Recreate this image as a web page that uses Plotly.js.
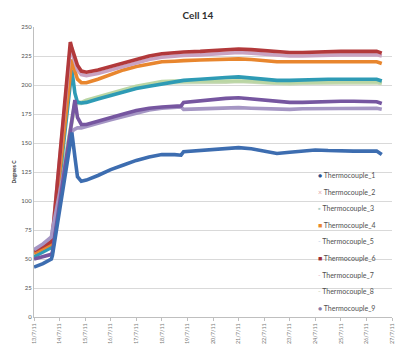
<!DOCTYPE html>
<html>
<head>
<meta charset="utf-8">
<script src="https://cdn.plot.ly/plotly-3.0.1.min.js"></script>
<style>html,body{margin:0;padding:0;background:#fff;}#chart{width:396px;height:349px;}</style>
</head>
<body>
<div id="chart"></div>
<script>
// time axis (days from start)
var t = [0, 0.35, 0.68, 0.72, 1.42, 1.48, 1.6, 1.7, 1.85, 2.05, 2.5, 3.0, 3.5, 4.0, 4.5, 5.0, 5.5, 5.75, 5.85, 6.5, 7.0, 7.5, 8.0, 8.5, 9.0, 9.5, 10.0, 10.5, 11.0, 11.5, 12.0, 12.5, 13.0, 13.4, 13.6];

var seriesNames = ["Thermocouple_1","Thermocouple_2","Thermocouple_3","Thermocouple_4","Thermocouple_5","Thermocouple_6","Thermocouple_7","Thermocouple_8","Thermocouple_9"];

var tc1 = [43, 46, 50, 53, 150, 159, 138, 121, 117, 118, 122, 127, 131, 135, 138, 140, 140, 139.5, 142.5, 143.5, 144.5, 145.5, 146, 145, 143, 141, 142, 143, 144, 143.5, 143, 143, 143, 143, 140];
var tc2 = [57, 62, 68, 71, 231, 228, 220, 213, 209, 208, 210, 213, 216, 219, 222, 224, 225, 225.5, 225.5, 226, 226.5, 227, 228, 227.5, 226.5, 225.5, 225, 225, 225.5, 226, 226, 226, 226, 226, 225];
var tc3 = [52, 56, 60, 63, 201, 213, 193, 185, 184.5, 185, 188, 191, 194, 197, 199, 201, 203, 203.5, 204, 205, 206, 206.5, 207, 206, 205, 204, 204, 204.5, 205, 205, 205, 205, 205, 205, 203.5];
var tc4 = [55, 59, 63, 66, 212, 222, 212, 205, 202, 202, 205, 209, 213, 216, 218, 220, 220.5, 221, 221, 221.5, 222, 222, 222.5, 222, 221, 220, 220, 220, 220, 220.5, 220.5, 220.5, 220.5, 220, 218.5];
var tc5 = [56, 61, 67, 73, 162, 170, 185, 185, 185, 187, 190, 193, 196, 199, 201, 203, 203.5, 203.5, 203.5, 203.5, 203.5, 204, 204, 203.5, 202.5, 202, 202, 202.5, 202.5, 203, 203, 203, 203, 203, 202];
var tc6 = [57, 61, 65, 69, 237, 232, 223, 217, 212, 211, 213, 216, 219, 222, 225, 227, 228, 228, 228.5, 229, 229.5, 230, 231, 230.5, 229.5, 228.5, 228, 228, 228.5, 229, 229, 229, 229, 229, 227.5];
var tc7 = [58, 63, 69, 75, 154, 160, 162, 163, 163, 164, 167, 170, 173, 176, 178.5, 180, 180.5, 181, 179, 179.5, 180, 180, 180.5, 180, 179.5, 179, 179, 179.5, 179.5, 180, 180, 180, 180, 180, 179];
var tc8 = [55, 60, 66, 72, 160, 168, 183, 184, 184, 186, 189, 192, 195, 198, 200, 201.5, 202, 202, 202, 202, 202.5, 202.5, 203, 202.5, 201.5, 201, 201, 201.5, 201.5, 202, 202, 202, 202, 202, 201];
var tc9 = [50, 52, 54, 56, 160, 169, 187, 172, 166, 166, 169, 172, 175, 178, 180, 181, 181.5, 182, 185, 186.5, 188, 188.5, 189, 188, 186.5, 185.5, 185, 185, 185.5, 186, 186, 186, 186, 185.5, 184];

var tickVals = [0,1,2,3,4,5,6,7,8,9,10,11,12,13,14];
var tickLabels = ["13/7/11","14/7/11","15/7/11","16/7/11","17/7/11","18/7/11","19/7/11","20/7/11","21/7/11","22/7/11","23/7/11","24/7/11","25/7/11","26/7/11","27/7/11"];

var lineColors = ["#3D6DB0","#C9A3C2","#2E9BB5","#E8862E","#BBD6A4","#B2393B","#A596C4","#CBDABB","#7656A0"];
var legendColors = ["#2F4F8A","#E3A6A6","#A9CFC8","#E8862E","#BCD2E8","#9E2F33","#E5B8C8","#CBD6C0","#8A7AA8"];
var legendGlyphs = ["●","×","▪","■","-","■","-","-","●"];

var values = [tc1, tc2, tc3, tc4, tc5, tc6, tc7, tc8, tc9];
var drawOrder = [7, 4, 2, 3, 1, 5, 6, 8, 0];

var traces = [];
drawOrder.forEach(function(i){
  traces.push({
    x: t, y: values[i], type: "scatter", mode: "lines",
    name: seriesNames[i], showlegend: false,
    line: {color: lineColors[i], width: 3.6},
    hoverinfo: "skip"
  });
});

// legend drawn as text annotations (Excel-style compact legend)
var plotTop = 27, plotBottom = 317, plotLeft = 34, plotRight = 392;
var legendX = (316 - plotLeft) / (plotRight - plotLeft);
var annotations = seriesNames.map(function(n, i){
  var py = 175 + 16.6 * i;
  return {
    xref: "paper", yref: "paper", x: legendX, y: (plotBottom - py) / (plotBottom - plotTop),
    xanchor: "left", yanchor: "middle", showarrow: false,
    text: '<span style="color:' + legendColors[i] + '">' + legendGlyphs[i] + '</span> ' + n,
    font: {size: 7, color: "#505050"}
  };
});

var layout = {
  width: 396, height: 349,
  margin: {l: plotLeft, r: 396 - plotRight, t: plotTop, b: 349 - plotBottom},
  paper_bgcolor: "#ffffff", plot_bgcolor: "#ffffff",
  font: {family: "Lato, 'Open Sans', sans-serif", color: "#404040", size: 6},
  title: {text: "Cell 14", font: {size: 10, color: "#303030", weight: "bold"},
          x: 0.5, xanchor: "center", y: 1 - 15/349, yanchor: "middle"},
  xaxis: {
    range: [0, 14], tickmode: "array", tickvals: tickVals, ticktext: tickLabels,
    tickangle: -90, tickfont: {size: 5.5, color: "#7a7a7a"},
    showgrid: false, zeroline: false,
    showline: true, linecolor: "#BFBFBF", linewidth: 1,
    ticks: "outside", ticklen: 3, tickcolor: "#BFBFBF"
  },
  yaxis: {
    range: [0, 250], tickmode: "array", tickvals: [0,25,50,75,100,125,150,175,200,225,250],
    tickfont: {size: 6, color: "#505050"},
    showgrid: true, gridcolor: "#D9D9D9", gridwidth: 1, zeroline: false,
    showline: true, linecolor: "#BFBFBF", linewidth: 1, ticks: "",
    title: {text: "Degrees C", font: {size: 5, color: "#303030", weight: "bold"}, standoff: 4}
  },
  showlegend: false,
  annotations: annotations
};

Plotly.newPlot("chart", traces, layout, {displayModeBar: false, staticPlot: true});
</script>
</body>
</html>
